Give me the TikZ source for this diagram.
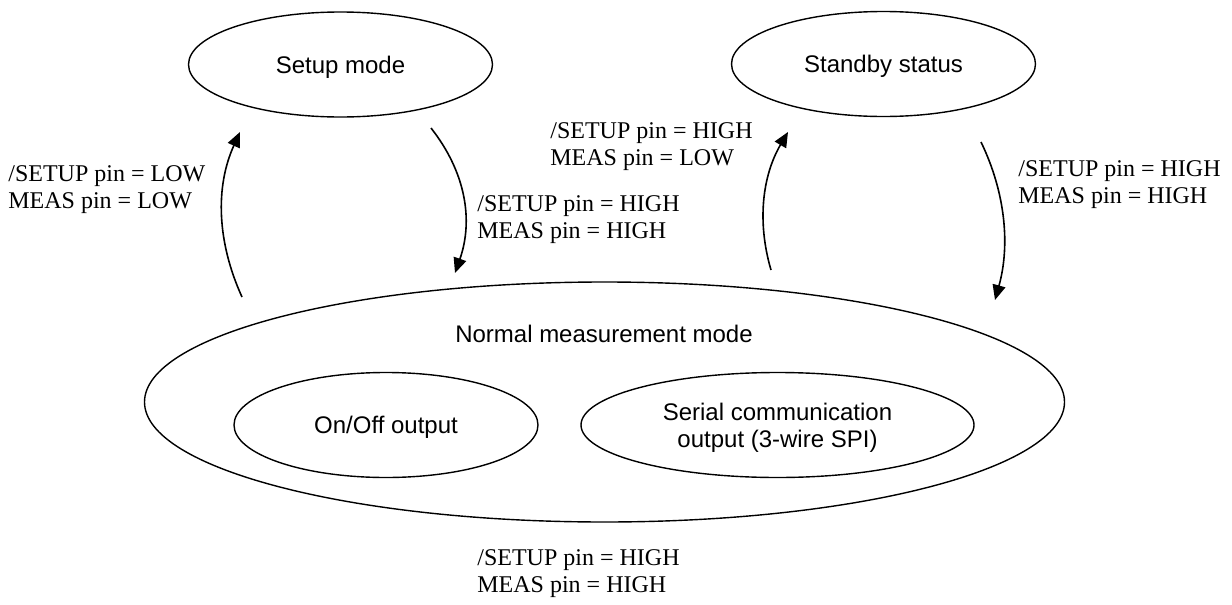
\documentclass[tikz,border=0pt]{standalone}
\usepackage{fontspec}
\setmainfont{Liberation Serif}
\setsansfont{Liberation Sans}
\usetikzlibrary{shapes.geometric, arrows.meta}
\tikzstyle{state} = [ellipse, minimum width=152pt, minimum height=52.5pt, inner sep=0pt, text depth=0pt, text centered, align=center, draw=black, line width=0.7pt, font=\sffamily\fontsize{12}{13.5}\selectfont]
\tikzstyle{cond} = [anchor=west, align=left, inner sep=0pt, font=\fontsize{12}{13.5}\selectfont]
\tikzstyle{arrow} = [line width=0.8pt, -{Triangle[length=7.5pt,width=6.5pt]}]

\begin{document}
\begin{tikzpicture}[x=0.5pt, y=-0.5pt]
    \useasboundingbox (0,0) rectangle (1232,605);
    \node (setup) [state] at (340.5,64.5) {Setup mode};
    \node (standby) [state] at (883.5,64) {Standby status};
    \node (normal) [state, minimum width=460pt, minimum height=120pt] at (604.5,402) {};
    \node (normaltext) [font=\sffamily\fontsize{12}{13.5}\selectfont] at (604,334) {Normal measurement mode};
    \node (onoff) [state] at (386,425) {On/Off output};
    \node (serial) [state, minimum width=196.5pt] at (777.5,425) {Serial communication\\output (3-wire SPI)};
    % arrow ends
    \coordinate (a1s) at (242,297);
    \coordinate (a1e) at (240,132);
    \coordinate (a2s) at (431,128);
    \coordinate (a2e) at (455,273);
    \coordinate (a3s) at (771,270);
    \coordinate (a3e) at (788,132);
    \coordinate (a4s) at (981,142);
    \coordinate (a4e) at (995,300);
    \draw [arrow] (a1s) .. controls (217,242) and (215,187) .. (a1e);
    \draw [arrow] (a2s) .. controls (465.6,172) and (473.6,220) .. (a2e);
    \draw [arrow] (a3s) .. controls (756.8,221.6) and (762.4,175.6) .. (a3e);
    \draw [arrow] (a4s) .. controls (1005.6,192.9) and (1010.2,245.5) .. (a4e);
    % pin conditions
    \node (c1) [cond] at (8,189.5) {/SETUP pin = LOW\\MEAS pin = LOW};
    \node (c2) [cond] at (477,219.5) {/SETUP pin = HIGH\\MEAS pin = HIGH};
    \node (c3) [cond] at (550,146.5) {/SETUP pin = HIGH\\MEAS pin = LOW};
    \node (c4) [cond] at (1018,184.5) {/SETUP pin = HIGH\\MEAS pin = HIGH};
    \node (c5) [cond] at (477,574) {/SETUP pin = HIGH\\MEAS pin = HIGH};
\end{tikzpicture}
\end{document}
